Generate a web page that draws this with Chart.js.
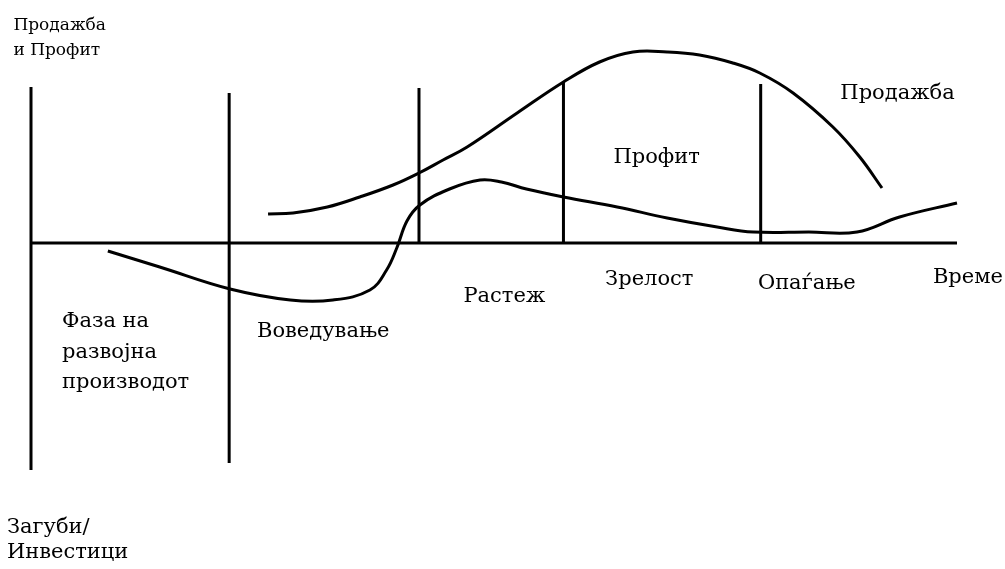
<!DOCTYPE html>
<html>
<head>
<meta charset="utf-8">
<script src="https://cdn.jsdelivr.net/npm/chart.js@4.4.0/dist/chart.umd.min.js"></script>
<style>
  html, body { margin: 0; padding: 0; background: #fff; }
  #wrap { width: 1005px; height: 569px; position: relative; }
</style>
</head>
<body>
<div id="wrap"><canvas id="myChart"></canvas></div>
<script>
// time axis 0..100, value axis -100..100 (0 = time axis)
const salesTime = [25.6, 28.3, 32.0, 35.5, 39.1, 41.9, 44.5, 47.1, 52.5, 57.5, 61.4, 65.0, 68.7, 72.2, 75.8, 78.7, 82.3, 86.6, 89.5, 91.9];
const salesValues = [14.5, 15, 18, 23, 29, 35, 41.5, 48, 65, 80.5, 90.5, 95.5, 95.5, 94, 90, 85, 75, 58, 43, 27.5];

const profitTime = [8.3, 13.9, 21.5, 28.0, 32.6, 36.6, 38.4, 39.5, 40.6, 42.0, 45.2, 48.5, 50.8, 53.5, 57.5, 63.3, 68.7, 74.1, 78.0, 84.0, 89.2, 93.8, 100];
const profitValues = [-4, -12, -23, -28.5, -28.5, -23.5, -13.5, -2.5, 11, 19, 27, 31.5, 30.5, 27, 23, 18, 12.5, 8, 5.5, 5.5, 5.5, 13, 20];

// phase boundaries (vertical lines)
const phaseTime = [0, 21.4, 41.9, 57.5, 78.8];
const phaseTop = [78, 75, 77.5, 80.5, 79.5];
const phaseBottom = [-113.5, -110, 0, 0, 0];

const axisStart = 0;
const axisEnd = 100;

// texts
const phaseLabels = ['Фаза на', 'развојна', 'производот', 'Воведување', 'Растеж', 'Зрелост', 'Опаѓање'];
const curveLabels = ['Продажба', 'Профит'];
const axisLabels = ['Продажба', 'и Профит', 'Време', 'Загуби/', 'Инвестици'];

function toPoints(xs, ys) {
  return xs.map((x, i) => ({ x: x, y: ys[i] }));
}

const datasets = [];
const black = '#000';

// time axis
datasets.push({
  data: [{ x: axisStart, y: 0 }, { x: axisEnd, y: 0 }],
  borderColor: black, borderWidth: 3, pointRadius: 0, clip: false
});

phaseTime.forEach((t, i) => {
  datasets.push({
    data: [{ x: t, y: phaseTop[i] }, { x: t, y: phaseBottom[i] }],
    borderColor: black, borderWidth: 3, pointRadius: 0, clip: false
  });
});

datasets.push({
  data: toPoints(salesTime, salesValues),
  borderColor: black, borderWidth: 3, pointRadius: 0,
  tension: 0.4, clip: false
});
datasets.push({
  data: toPoints(profitTime, profitValues),
  borderColor: black, borderWidth: 3, pointRadius: 0,
  tension: 0.4, clip: false
});

// where each text goes, in chart units (left, baseline)
const textSpots = [
  { text: axisLabels[0], x: -1.9, y: 106.5, size: 17 },
  { text: axisLabels[1], x: -1.9, y: 94, size: 17 },
  { text: curveLabels[0], x: 87.4, y: 72, size: 21 },
  { text: curveLabels[1], x: 62.9, y: 40, size: 21 },
  { text: phaseLabels[4], x: 46.7, y: -29.5, size: 21 },
  { text: phaseLabels[5], x: 62.0, y: -21, size: 21 },
  { text: phaseLabels[6], x: 78.5, y: -23, size: 21 },
  { text: axisLabels[2], x: 97.4, y: -20, size: 21 },
  { text: phaseLabels[0], x: 3.35, y: -42, size: 21 },
  { text: phaseLabels[1], x: 3.35, y: -57.5, size: 21 },
  { text: phaseLabels[2], x: 3.35, y: -72.5, size: 21 },
  { text: phaseLabels[3], x: 24.4, y: -47, size: 21 },
  { text: axisLabels[3], x: -2.6, y: -145, size: 21 },
  { text: axisLabels[4], x: -2.6, y: -157.5, size: 21 }
];

const textPlugin = {
  id: 'texts',
  afterDatasetsDraw(chart) {
    const c = chart.ctx;
    const xs = chart.scales.x;
    const ys = chart.scales.y;
    c.save();
    c.fillStyle = black;
    c.textAlign = 'left';
    c.textBaseline = 'alphabetic';
    textSpots.forEach(s => {
      c.font = s.size + 'px "DejaVu Serif"';
      c.fillText(s.text, xs.getPixelForValue(s.x), ys.getPixelForValue(s.y));
    });
    c.restore();
  }
};

const ctx = document.getElementById('myChart').getContext('2d');
let myChart = new Chart(ctx, {
  type: 'line',
  data: { datasets: datasets },
  options: {
    responsive: true,
    maintainAspectRatio: false,
    animation: false,
    layout: { padding: { left: 31, right: 48, top: 43, bottom: 126 } },
    plugins: { legend: { display: false }, tooltip: { enabled: false } },
    scales: {
      x: { type: 'linear', min: 0, max: 100, display: false },
      y: { type: 'linear', min: -100, max: 100, display: false }
    }
  },
  plugins: [textPlugin]
});
</script>
</body>
</html>
